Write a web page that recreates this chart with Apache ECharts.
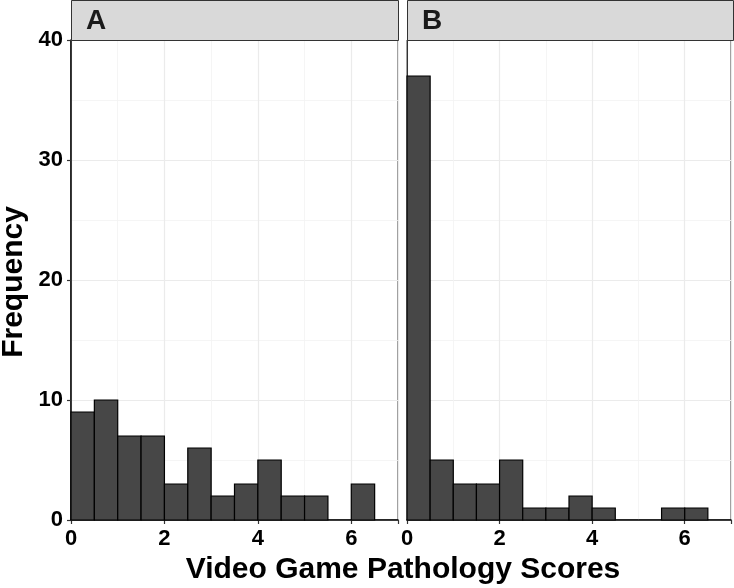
<!DOCTYPE html>
<html><head><meta charset="utf-8">
<script src="https://cdn.jsdelivr.net/npm/echarts@6/dist/echarts.min.js"></script>
<style>html,body{margin:0;padding:0;background:#fff}#c{width:734px;height:588px}</style>
</head><body><div id="c"></div>
<script>
var binStarts = [0, 0.5, 1, 1.5, 2, 2.5, 3, 3.5, 4, 4.5, 5, 5.5, 6];
var binWidth = 0.5;
var countsA = [9, 10, 7, 7, 3, 6, 2, 3, 5, 2, 2, 0, 3];
var countsB = [37, 5, 3, 3, 5, 1, 1, 2, 1, 0, 0, 1, 1];
var panelLabels = ['A', 'B'];
var xTicks = [0, 2, 4, 6];
var yTicks = [0, 10, 20, 30, 40];

function binData(counts) {
  return binStarts.map(function (s, i) { return [s, s + binWidth, counts[i]]; });
}
function renderBin(params, api) {
  var c = api.value(2);
  if (!c) return null;
  var p0 = api.coord([api.value(0), 0]);
  var p1 = api.coord([api.value(1), c]);
  return {
    type: 'rect',
    shape: { x: p0[0], y: p1[1], width: p1[0] - p0[0], height: p0[1] - p1[1] },
    style: { fill: '#474747', stroke: '#000', lineWidth: 1.2 }
  };
}
var font = 'Liberation Sans, Arial, sans-serif';
var grids = [
  { left: 71, top: 40, width: 327, height: 480 },
  { left: 407, top: 40, width: 326, height: 480 }
];
function xAxis(i) {
  return {
    type: 'value', gridIndex: i, min: 0, max: 7, interval: 2,
    axisLine: { show: true, lineStyle: { color: '#000', width: 1.5 } },
    axisTick: { show: true, length: 4, lineStyle: { color: '#333', width: 1.2 } },
    axisLabel: { show: true, color: '#000', fontWeight: 'bold', fontSize: 22, fontFamily: font, margin: 8,
      formatter: function (v) { return xTicks.indexOf(v) >= 0 ? String(v) : ''; } },
    splitLine: { show: true, lineStyle: { color: '#EBEBEB', width: 1.2 } },
    minorTick: { show: false, splitNumber: 2 },
    minorSplitLine: { show: true, lineStyle: { color: '#F2F2F2', width: 0.8 } }
  };
}
function yAxis(i) {
  return {
    type: 'value', gridIndex: i, min: 0, max: 40, interval: 10,
    axisLine: { show: true, lineStyle: { color: i === 0 ? '#000' : '#333', width: i === 0 ? 1.5 : 1 } },
    axisTick: { show: i === 0, length: 4, lineStyle: { color: '#333', width: 1.2 } },
    axisLabel: { show: i === 0, color: '#000', fontWeight: 'bold', fontSize: 22, fontFamily: font, margin: 8,
      formatter: function (v) { return yTicks.indexOf(v) >= 0 ? String(v) : ''; } },
    splitLine: { show: true, lineStyle: { color: '#EBEBEB', width: 1.2 } },
    minorTick: { show: false, splitNumber: 2 },
    minorSplitLine: { show: true, lineStyle: { color: '#F2F2F2', width: 0.8 } }
  };
}
var chart = echarts.init(document.getElementById('c'));
var graphics = [];
grids.forEach(function (g, i) {
  graphics.push({ type: 'rect', left: g.left, top: 0, z: 10,
    shape: { x: 0, y: 0, width: g.width, height: 40 },
    style: { fill: '#D9D9D9', stroke: '#333', lineWidth: 1 } });
  graphics.push({ type: 'text', left: g.left + 15, top: 7, z: 11,
    style: { text: panelLabels[i], fontSize: 28, fontWeight: 'bold', fontFamily: font, fill: '#1A1A1A' } });
});
graphics.push({ type: 'text', x: 403, y: 570, z: 11,
  style: { text: 'Video Game Pathology Scores', fontSize: 30, fontWeight: 'bold', fontFamily: font,
    fill: '#000', align: 'center', verticalAlign: 'middle' } });
graphics.push({ type: 'text', x: 14, y: 282, rotation: Math.PI / 2, z: 11,
  style: { text: 'Frequency', fontSize: 30, fontWeight: 'bold', fontFamily: font,
    fill: '#000', align: 'center', verticalAlign: 'middle' } });
chart.setOption({
  animation: false,
  backgroundColor: '#fff',
  grid: grids.map(function (g) { return Object.assign({ show: true, borderColor: '#333', borderWidth: 1, backgroundColor: '#fff' }, g); }),
  xAxis: [xAxis(0), xAxis(1)],
  yAxis: [yAxis(0), yAxis(1)],
  graphic: graphics,
  series: [
    { type: 'custom', xAxisIndex: 0, yAxisIndex: 0, data: binData(countsA), renderItem: renderBin, encode: { x: [0, 1], y: 2 } },
    { type: 'custom', xAxisIndex: 1, yAxisIndex: 1, data: binData(countsB), renderItem: renderBin, encode: { x: [0, 1], y: 2 } }
  ]
});
</script></body></html>
